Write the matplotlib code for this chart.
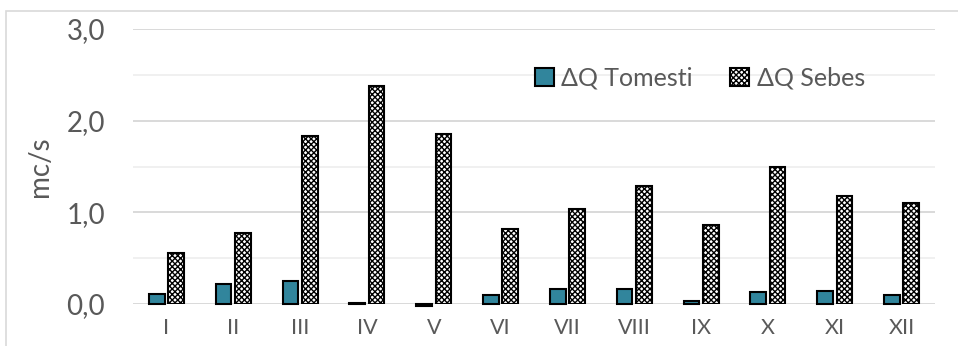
import numpy as np
import matplotlib.pyplot as plt
from matplotlib.patches import Rectangle, Patch

# Monthly flow differences (mc/s)
months = ['I', 'II', 'III', 'IV', 'V', 'VI', 'VII', 'VIII', 'IX', 'X', 'XI', 'XII']
dq_tomesti = [0.11, 0.22, 0.25, 0.01, -0.02, 0.10, 0.16, 0.16, 0.03, 0.13, 0.145, 0.10]
dq_sebes = [0.555, 0.775, 1.83, 2.38, 1.86, 0.82, 1.04, 1.285, 0.86, 1.49, 1.18, 1.10]

plt.rcParams['font.family'] = ['Lato', 'DejaVu Sans']
plt.rcParams['hatch.linewidth'] = 1.0
text_col = '#595959'
teal = '#31859c'

fig = plt.figure(figsize=(9.58, 3.46), dpi=100)
ax = fig.add_axes([133/958, 1 - 304/346, (935 - 133)/958, (304 - 29)/346])

# chart frame
fig.patches.append(Rectangle((6/958, -0.2), 1.2, 1.2 - 11/346,
                             transform=fig.transFigure, fill=False,
                             edgecolor='#d9d9d9', lw=1.2))

x = np.arange(len(months))
w = 0.235
ax.bar(x - 0.145, dq_tomesti, w, color=teal, edgecolor='black', lw=1.5,
       clip_on=False, zorder=3)
ax.bar(x + 0.145, dq_sebes, w, color='white', edgecolor='black', lw=1.5,
       hatch='xxxxxx', zorder=3)

ax.set_xlim(-0.5, len(months) - 0.5)
ax.set_ylim(0, 3)
ax.set_yticks([0, 1, 2, 3])
ax.set_yticklabels(['0,0', '1,0', '2,0', '3,0'])
ax.set_yticks([0.5, 1.5, 2.5], minor=True)
ax.set_xticks(x)
ax.set_xticklabels(months)

ax.grid(axis='y', which='major', color='#d9d9d9', lw=1.4, zorder=0)
ax.grid(axis='y', which='minor', color='#f0f0f0', lw=1.4, zorder=0)
ax.set_axisbelow(True)
for s in ax.spines.values():
    s.set_visible(False)
ax.tick_params(axis='both', which='both', length=0)
ax.tick_params(axis='y', labelsize=20, labelcolor=text_col, pad=20)
ax.tick_params(axis='x', labelsize=15.5, labelcolor=text_col, pad=10)
ax.set_ylabel('mc/s', fontsize=20, color=text_col, labelpad=10)

handles = [Patch(facecolor=teal, edgecolor='black', lw=1.5),
           Patch(facecolor='white', edgecolor='black', lw=1.5, hatch='xxxxxx')]
fig.legend(handles, ['ΔQ Tomesti', 'ΔQ Sebes'], loc='center',
           bbox_to_anchor=(700/958, 1 - 78/346), ncol=2, frameon=False,
           fontsize=18, labelcolor=text_col, handlelength=0.75,
           handleheight=0.75, handletextpad=0.3, columnspacing=1.5)

fig.savefig('out.png', dpi=100)
